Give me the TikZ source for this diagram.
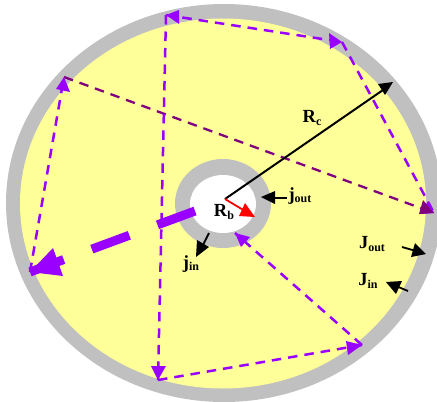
\documentclass[tikz,border=0pt]{standalone}
\usepackage{fontspec}
\setmainfont{Liberation Serif}
\newcommand\lblsub[2]{#1\raisebox{-2.5pt}{\fontsize{12}{12}\selectfont #2}}
\begin{document}
\begin{tikzpicture}[x=1pt,y=-1pt,
  thinpath/.style={draw=brightp,line width=2.5pt,dash pattern=on 9.5pt off 7pt},
  darkpath/.style={draw=darkp,line width=2.3pt,dash pattern=on 9.5pt off 7pt},
  lab/.style={inner sep=0pt,font=\bfseries\fontsize{18.5}{19}\selectfont}]
\definecolor{brightp}{RGB}{153,0,255}
\definecolor{darkp}{RGB}{128,0,128}
\definecolor{wallgray}{RGB}{192,192,192}
\definecolor{plasma}{RGB}{255,255,153}
\useasboundingbox (0,0) rectangle (437,402);
\fill[wallgray] (224,203) ellipse [x radius=218,y radius=199];
\fill[plasma] (223,203.5) ellipse [x radius=203,y radius=185];
\fill[wallgray] (223,203.5) ellipse [x radius=48,y radius=44.5];
\fill[white] (223,204) ellipse [x radius=33,y radius=29];
% reflection points
\coordinate (P1) at (30,272);
\coordinate (P2) at (64,77);
\coordinate (P3) at (434,213);
\coordinate (P4) at (342,42);
\coordinate (P5) at (166,15);
\coordinate (P6) at (158,380);
\coordinate (P7) at (362,345);
\coordinate (P8) at (235,233);
\coordinate (Ob) at (225,199);
\draw[thinpath] (P1) -- (P2);
\draw[darkpath] (P2) -- (P3);
\draw[thinpath] (P4) -- (P3);
\draw[thinpath] (P5) -- (P4);
\draw[thinpath] (P5) -- (P6);
\draw[thinpath] (P6) -- (P7);
\draw[thinpath] (P7) -- (P8);
\draw[draw=brightp,line width=9pt,dash pattern=on 40pt off 30pt] (195,211) -- (P1);
% heads
\fill[brightp] (P2) -- (70,92) -- (56,89) -- cycle;
\fill[brightp] (P3) -- (428,201) -- (421,214) -- cycle;
\fill[darkp] (P3) -- (423,200) -- (419,214) -- cycle;
\fill[brightp] (P4) -- (329,33) -- (330,49) -- cycle;
\fill[brightp] (P5) -- (179,10) -- (179,24) -- cycle;
\fill[brightp] (P6) -- (151,366) -- (166,366) -- cycle;
\fill[brightp] (P7) -- (346,341) -- (348,355) -- cycle;
\fill[brightp] (P8) -- (250,237) -- (241,247) -- cycle;
\fill[brightp] (P1) -- (53,248) -- (63,276) -- cycle;
% radii
\draw[line width=2pt] (Ob) -- (383,90);
\fill (393,82) -- (378,84) -- (385,95) -- cycle;
\draw[red,line width=1.8pt] (Ob) -- (245,211);
\fill[red] (255,217) -- (245,203) -- (239,216) -- cycle;
% currents
\draw[line width=1.8pt] (287,198) -- (272,198);
\fill (261,197) -- (275,191) -- (275,204) -- cycle;
\draw[line width=1.8pt] (209,233) -- (202,247);
\fill (196,257) -- (197,240) -- (209,247) -- cycle;
\draw[line width=1.8pt] (402,247) -- (416,251);
\fill (426,254) -- (415,243) -- (411,257) -- cycle;
\draw[line width=1.8pt] (408,291) -- (396,286);
\fill (386,282) -- (402,281) -- (396,294) -- cycle;
% labels
\node[lab] (Rc) at (312,118) {\lblsub{R}{c}};
\node[lab] (Rb) at (224,212) {\lblsub{R}{b}};
\node[lab] (jo) at (300,196) {\lblsub{j}{out}};
\node[lab] (ji) at (191,264) {\lblsub{j}{in}};
\node[lab] (Jo) at (372,244) {\lblsub{J}{out}};
\node[lab] (Ji) at (368,281) {\lblsub{J}{in}};
\end{tikzpicture}
\end{document}
